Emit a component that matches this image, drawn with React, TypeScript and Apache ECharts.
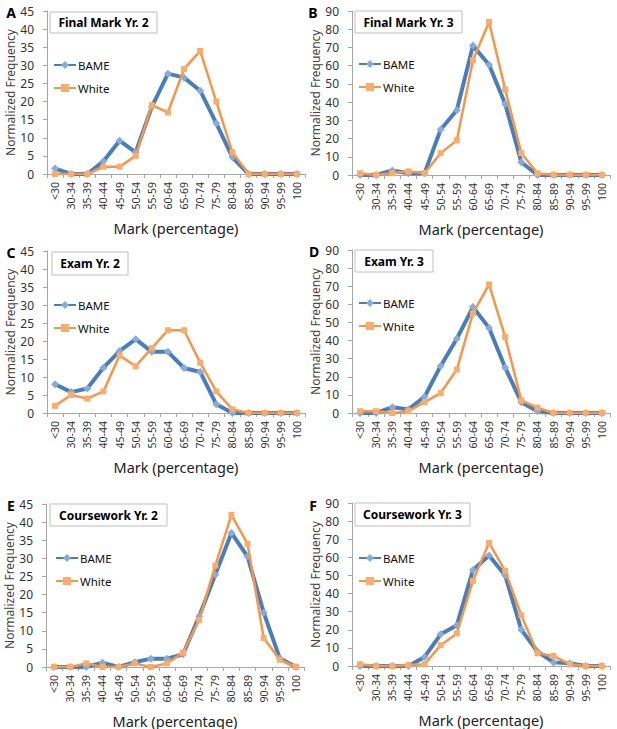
import React, { useEffect, useRef } from "react";
import * as echarts from "echarts";

const categories = ["<30","30-34","35-39","40-44","45-49","50-54","55-59","60-64","65-69","70-74","75-79","80-84","85-89","90-94","95-99","100"];

const finalY2Bame = [1.5,0,0,3.5,9.2,6,18.5,27.7,26.6,23,14,4.6,0,0,0,0];
const finalY2White = [0,0,0,2,2,5,19,17,29,34,20,6,0,0,0,0];
const finalY3Bame = [0,0,2.5,1,1,25,35.5,71,60.5,39,7,0,0,0,0,0];
const finalY3White = [1,0,1,2,1,12,19,63,84,47,12,1,0,0,0,0];
const examY2Bame = [8,5.8,6.8,12.6,17.2,20.5,17,17,12.5,11.4,2.4,0,0,0,0,0];
const examY2White = [2,5,4,6,16,13,18,23,23,14,6,1,0,0,0,0];
const examY3Bame = [0,0,3.2,2,9,26,41,58.5,47,25,6,1,0,0,0,0];
const examY3White = [1,1,0,1,6,11,24,55,71,42,7,3,0,0,0,0];
const courseY2Bame = [0,0,0,1.2,0,1.3,2.3,2.3,3.5,14,25.5,37,30.5,15,2.4,0];
const courseY2White = [0,0,1,0,0,1,0,1,4,13,28,42,34,8,2,0];
const courseY3Bame = [0,0,0,0,5,17.5,22.5,53,61,50,20,8,2,1.5,0,0];
const courseY3White = [1,0,0,0.5,1,11.5,18,47,68,52.5,28,7,5.5,1,0,0];

const panelLetters = ["A","B","C","D","E","F"];
const panelTitles = ["Final Mark Yr. 2","Final Mark Yr. 3","Exam Yr. 2","Exam Yr. 3","Coursework Yr. 2","Coursework Yr. 3"];
const yMaxes = [45, 90, 45, 90, 45, 90];
const yIntervals = [5, 10, 5, 10, 5, 10];
const seriesNames = ["BAME", "White"];

export default function App() {
  const ref = useRef<HTMLDivElement>(null);
  useEffect(() => {
    if (!ref.current) return;
    const chart = echarts.init(ref.current, null, { renderer: "svg" });
    const bame = [finalY2Bame, finalY3Bame, examY2Bame, examY3Bame, courseY2Bame, courseY3Bame];
    const white = [finalY2White, finalY3White, examY2White, examY3White, courseY2White, courseY3White];

    const grids = [
      { left: 47, top: 11, width: 258, height: 163 },
      { left: 352, top: 11, width: 258, height: 164 },
      { left: 47, top: 251, width: 258, height: 162 },
      { left: 352, top: 250, width: 258, height: 163 },
      { left: 46, top: 504, width: 258, height: 163 },
      { left: 352, top: 503, width: 258, height: 163 },
    ];
    const letterPos = [[11, 12.5], [313, 12], [11, 252], [314, 251], [11, 505], [313, 505]];
    const boxes = [
      [50, 12, 107, 21], [355, 11, 107, 22], [52, 252, 76, 23],
      [355, 250, 78, 22], [50, 504, 117, 22], [355, 503, 115, 23],
    ];
    const legendPos = [[53, 59], [358, 58], [53, 299], [358, 297], [55, 552], [358, 552]];

    const font = "Noto Sans";
    const xAxis: any[] = [];
    const yAxis: any[] = [];
    const series: any[] = [];
    const legend: any[] = [];
    const graphic: any[] = [];

    grids.forEach((g, i) => {
      xAxis.push({
        type: "category", gridIndex: i, data: categories, boundaryGap: true,
        axisLine: { show: true, lineStyle: { color: "#a6a6a6", width: 1 } },
        axisTick: { show: true, length: 4, lineStyle: { color: "#a6a6a6" } },
        axisLabel: { rotate: 90, interval: 0, fontSize: 10.5, color: "#333", fontFamily: font, margin: 8 },
        name: "Mark (percentage)", nameLocation: "middle", nameGap: 46,
        nameTextStyle: { fontSize: 14.5, color: "#222", fontFamily: font },
        splitLine: { show: false },
      });
      yAxis.push({
        type: "value", gridIndex: i, min: 0, max: yMaxes[i], interval: yIntervals[i],
        axisLine: { show: true, lineStyle: { color: "#a6a6a6", width: 1 } },
        axisTick: { show: true, length: 4, lineStyle: { color: "#a6a6a6" } },
        axisLabel: { fontSize: 12, color: "#333", fontFamily: font, margin: 13 },
        splitLine: { show: false },
        name: "Normalized Frequency", nameLocation: "middle", nameGap: 31,
        nameTextStyle: { fontSize: 12, color: "#444", fontFamily: font },
      });
      series.push({
        name: seriesNames[0], type: "line", xAxisIndex: i, yAxisIndex: i, data: bame[i],
        symbol: "diamond", symbolSize: 8,
        lineStyle: { color: "#4a7ebb", width: 4 },
        itemStyle: { color: "#86acd9" },
        z: 2,
      });
      series.push({
        name: seriesNames[1], type: "line", xAxisIndex: i, yAxisIndex: i, data: white[i],
        symbol: "rect", symbolSize: 6,
        lineStyle: { color: "#f79646", width: 2.5 },
        itemStyle: { color: "#f9ac6c" },
        z: 3,
      });
      legend.push({
        data: seriesNames, orient: "vertical", left: legendPos[i][0], top: legendPos[i][1],
        itemWidth: 22, itemHeight: 10, itemGap: 11, padding: 0,
        textStyle: { fontSize: 11.5, color: "#111", fontFamily: font, padding: [0, 0, 0, -3] },
      });
      const b = boxes[i];
      graphic.push({
        type: "rect", shape: { x: b[0], y: b[1], width: b[2], height: b[3] },
        style: { fill: "#fff", stroke: "#bfbfbf", lineWidth: 1 }, z: 10,
      });
      graphic.push({
        type: "text", x: b[0] + b[2] / 2, y: b[1] + b[3] / 2,
        style: { text: panelTitles[i], fill: "#000", font: `bold 12px "${font}"`, align: "center", verticalAlign: "middle" },
        z: 11,
      });
      graphic.push({
        type: "text", x: letterPos[i][0], y: letterPos[i][1],
        style: { text: panelLetters[i], fill: "#000", font: `bold 14px "${font}"`, align: "center", verticalAlign: "middle" },
        z: 11,
      });
    });

    chart.setOption({
      animation: false,
      backgroundColor: "#fff",
      grid: grids,
      xAxis, yAxis, series, legend, graphic,
    });
    return () => chart.dispose();
  }, []);
  return <div ref={ref} style={{ position: "absolute", left: 0, top: 0, width: 617, height: 729 }} />;
}
